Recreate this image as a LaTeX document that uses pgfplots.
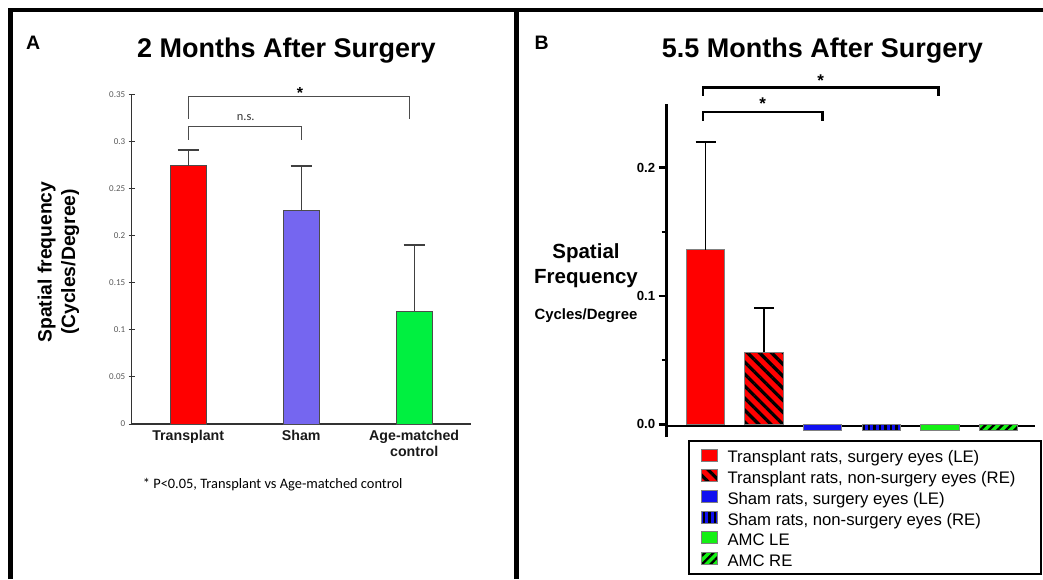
\documentclass[border=0pt]{standalone}
\usepackage{pgfplots}
\pgfplotsset{compat=1.18}
\usetikzlibrary{patterns.meta}
\usepackage{fontspec}
\setmainfont{Liberation Sans}
\newfontfamily\carlito{Carlito}
\definecolor{amcgreenA}{RGB}{0,240,64}
\definecolor{shamA}{RGB}{117,102,240}
\definecolor{bblue}{RGB}{16,16,240}
\definecolor{bgreen}{RGB}{20,240,20}
\newcommand\fsz[2]{\fontsize{#1pt}{#2pt}\selectfont}
\pgfplotsset{sw/.style={legend image code/.code={\draw[##1] (0pt,-2pt) rectangle (16pt,10pt);}}}
\begin{document}
\begin{tikzpicture}
\path[use as bounding box] (0,0) rectangle (1043pt,579pt);
% frames
\draw[line width=4.5pt] (10.5pt,0pt) -- (10.5pt,569pt) -- (1043pt,569pt);
\draw[line width=4.5pt] (516.7pt,0pt) -- (516.7pt,569pt);
% panel letters and titles
\node[font=\bfseries\fsz{19.5}{23}, anchor=base west, inner sep=0pt] at (26pt,529.7pt) {A};
\node[font=\bfseries\fsz{19.5}{23}, anchor=base west, inner sep=0pt] at (534.3pt,529.7pt) {B};
\node[font=\bfseries\fsz{27}{32}, anchor=base, inner sep=0pt] at (286.5pt,521.7pt) {2 Months After Surgery};
\node[font=\bfseries\fsz{27}{32}, anchor=base, inner sep=0pt] at (822.5pt,521.3pt) {5.5 Months After Surgery};
% panel A y label and footnote
\node[rotate=90, align=center, font=\bfseries\fsz{19.3}{23.5}] at (58.5pt,317pt) {Spatial frequency\\(Cycles/Degree)};
\node[font=\carlito\fsz{14.4}{17}, anchor=base west, inner sep=0pt] at (142.7pt,90.5pt) {* P<0.05, Transplant vs Age-matched control};
% panel B y label
\node[font=\bfseries\fsz{20.5}{24}, anchor=base, inner sep=0pt] at (586pt,320.7pt) {Spatial};
\node[font=\bfseries\fsz{20.5}{24}, anchor=base, inner sep=0pt] at (586pt,295.7pt) {Frequency};
\node[font=\bfseries\fsz{14.9}{17}, anchor=base, inner sep=0pt] at (586pt,259.7pt) {Cycles/Degree};
% legend frame B
\draw[line width=2pt] (689.3pt,138.3pt) rectangle (1041.3pt,4.7pt);

% ---------------- Panel A ----------------
\begin{axis}[
  at={(131.7pt,155pt)}, anchor=south west, scale only axis,
  width=339pt, height=329.7pt,
  xmin=-0.5, xmax=2.5, ymin=0, ymax=0.35,
  axis x line*=bottom, axis y line*=left,
  axis line style={line width=1.1pt, black!80, -},
  xtick={0,1,2}, xticklabels={Transplant,Sham,{Age-matched\\control}},
  xticklabel style={font=\bfseries\fsz{14.2}{15.4}, align=center, text=black!90},
  x tick style={draw=none},
  ytick={0,0.05,0.1,0.15,0.2,0.25,0.3,0.35},
  yticklabels={0,0.05,0.1,0.15,0.2,0.25,0.3,0.35},
  yticklabel style={font=\carlito\fsz{9}{10}, text=black!65},
  y tick style={line width=1pt, black!80},
  tick align=center, major tick length=6pt,
  scaled y ticks=false,
  clip=false,
]
\addplot[ybar, bar width=36pt, fill=red, draw=black!70, line width=0.8pt,
  error bars/.cd, y dir=plus, y explicit, error bar style={line width=1.4pt, black!75},
  error mark options={rotate=90, line width=1.4pt, black!75, mark size=10.5pt}]
  coordinates {(0,0.274) +- (0,0.017)};
\addplot[ybar, bar width=36pt, fill=shamA, draw=black!70, line width=0.8pt,
  error bars/.cd, y dir=plus, y explicit, error bar style={line width=1.4pt, black!75},
  error mark options={rotate=90, line width=1.4pt, black!75, mark size=10.5pt}]
  coordinates {(1,0.227) +- (0,0.047)};
\addplot[ybar, bar width=36pt, fill=amcgreenA, draw=black!70, line width=0.8pt,
  error bars/.cd, y dir=plus, y explicit, error bar style={line width=1.4pt, black!75},
  error mark options={rotate=90, line width=1.4pt, black!75, mark size=10.5pt}]
  coordinates {(2,0.120) +- (0,0.070)};
\draw[black!70, line width=1.3pt] (axis cs:0,0.3238) -- (axis cs:0,0.348) -- (axis cs:1.957,0.348) -- (axis cs:1.957,0.3238);
\draw[black!70, line width=1.3pt] (axis cs:0,0.302) -- (axis cs:0,0.316) -- (axis cs:1,0.316) -- (axis cs:1,0.302);
\node[anchor=base, inner sep=0pt, font=\bfseries\fsz{16}{18}] at (axis cs:0.989,0.3459) {*};
\node[anchor=base, inner sep=0pt, font=\carlito\fsz{12.4}{14}, text=black!80] at (axis cs:0.509,0.3227) {n.s.};
\end{axis}

% ---------------- Panel B ----------------
\begin{axis}[
  at={(666.7pt,141.9pt)}, anchor=south west, scale only axis,
  width=368.3pt, height=333.6pt,
  xmin=-0.663, xmax=5.627, ymin=-0.01, ymax=0.25,
  axis x line=none, axis y line*=left,
  axis line style={line width=2.8pt, black, -},
  xtick=\empty,
  ytick={0,0.1,0.2}, yticklabels={0.0,0.1,0.2}, minor ytick={0.05,0.15},
  yticklabel style={font=\bfseries\fsz{13.2}{15}},
  tick style={line width=2.5pt, black},
  tick align=outside, major tick length=8pt, minor tick length=5pt,
  clip=false,
  legend style={at={(0.0923,-0.0345)}, anchor=north west, draw=none, fill=none,
    inner sep=0pt, outer sep=0pt, font=\fsz{16.7}{20}, row sep=1.0pt, column sep=8pt,
    nodes={text height=11.2pt, text depth=3.4pt, inner ysep=2pt, inner xsep=2pt}},
  legend cell align=left,
]
\draw[line width=2.3pt] (axis cs:-0.663,-0.0016) -- (axis cs:5.627,-0.0016);
\addplot[ybar, bar width=38.5pt, fill=red, draw=black!50, line width=0.8pt, sw,
  error bars/.cd, y dir=plus, y explicit, error bar style={line width=1.3pt, black},
  error mark options={rotate=90, line width=1.3pt, black, mark size=10pt}]
  coordinates {(0,0.136) +- (0,0.084)};
\addlegendentry{Transplant rats, surgery eyes (LE)}
\addplot[ybar, bar width=38.5pt, fill=red, draw=black!50, line width=0.8pt, sw,
  postaction={pattern={Lines[angle=-45,distance=8.5pt,line width=3.3pt]}, pattern color=black},
  error bars/.cd, y dir=plus, y explicit, error bar style={line width=1.3pt, black},
  error mark options={rotate=90, line width=1.3pt, black, mark size=10pt}]
  coordinates {(1,0.056) +- (0,0.0346)};
\addlegendentry{Transplant rats, non-surgery eyes (RE)}
\addplot[ybar, bar width=38.5pt, fill=bblue, draw=black!50, line width=0.8pt, sw]
  coordinates {(2,-0.0044)};
\addlegendentry{Sham rats, surgery eyes (LE)}
\addplot[ybar, bar width=38.5pt, fill=bblue, draw=black!50, line width=0.8pt, sw,
  postaction={pattern={Lines[angle=90,distance=5.5pt,line width=2.3pt]}, pattern color=black}]
  coordinates {(3,-0.0044)};
\addlegendentry{Sham rats, non-surgery eyes (RE)}
\addplot[ybar, bar width=38.5pt, fill=bgreen, draw=black!50, line width=0.8pt, sw]
  coordinates {(4,-0.0044)};
\addlegendentry{AMC LE}
\addplot[ybar, bar width=38.5pt, fill=bgreen, draw=black!50, line width=0.8pt, sw,
  postaction={pattern={Lines[angle=45,distance=6pt,line width=2.3pt]}, pattern color=black}]
  coordinates {(5,-0.0044)};
\addlegendentry{AMC RE}
\draw[line width=2.5pt] (axis cs:-0.04,0.2559) -- (axis cs:-0.04,0.2624) -- (axis cs:3.98,0.2624) -- (axis cs:3.98,0.2559);
\draw[line width=2.5pt] (axis cs:-0.04,0.2366) -- (axis cs:-0.04,0.2432) -- (axis cs:2.0,0.2432) -- (axis cs:2.0,0.2366);
\node[anchor=base, inner sep=0pt, font=\bfseries\fsz{17}{19}] at (axis cs:1.967,0.2634) {*};
\node[anchor=base, inner sep=0pt, font=\bfseries\fsz{17}{19}] at (axis cs:0.977,0.2452) {*};
\end{axis}
\end{tikzpicture}
\end{document}
